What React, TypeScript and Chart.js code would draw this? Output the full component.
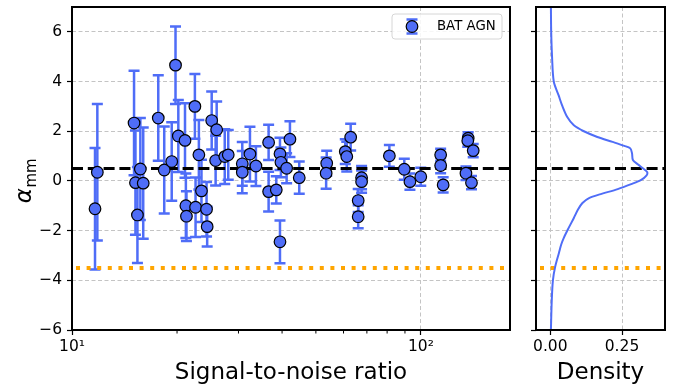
import React, { useEffect, useRef } from 'react';
import { Chart, registerables } from 'chart.js';

Chart.register(...registerables);

// ---- data ----
const snr = [
  11.64, 11.82, 15.06, 15.2, 15.4, 15.7, 16.0, 17.67, 18.38, 19.31,
  19.8, 20.17, 21.08, 21.2, 21.28, 22.5, 22.6, 23.1, 23.5, 24.3,
  24.4, 25.14, 25.8, 25.98, 27.4, 28.04, 30.76, 30.76, 32.36, 33.66,
  36.6, 36.6, 38.5, 39.45, 39.7, 39.45, 41.22, 42.13, 44.8, 53.7,
  53.5, 60.7, 61.3, 62.9, 67.6, 67.6, 66.1, 66.1, 81.2, 89.6,
  93.0, 99.9, 113.9, 113.9, 115.8, 136.6, 136.2, 141.2, 134.6, 139.6,
];
const alpha = [
  -1.12, 0.35, 2.33, -0.07, -1.37, 0.48, -0.09, 2.53, 0.44, 0.78,
  4.66, 1.81, 1.63, -1.0, -1.42, 3.0, -1.06, 1.05, -0.4, -1.14,
  -1.84, 2.43, 0.82, 2.06, 0.98, 1.05, 0.69, 0.35, 1.08, 0.6,
  1.55, -0.43, -0.36, 1.09, 0.75, -2.45, 0.51, 1.68, 0.13, 0.71,
  0.31, 1.18, 0.98, 1.76, 0.13, -0.03, -0.79, -1.44, 1.01, 0.47,
  -0.03, 0.17, 1.05, 0.62, -0.16, 1.72, 1.62, 1.22, 0.31, -0.07,
];
const alphaErr = [
  2.45, 2.75, 2.1, 2.1, 1.93, 2.05, 2.24, 1.72, 1.75, 1.58,
  1.56, 1.45, 1.5, 1.3, 1.0, 1.3, 1.2, 1.4, 1.25, 1.1,
  0.8, 1.17, 1.0, 1.14, 1.1, 1.0, 0.88, 0.85, 1.1, 0.8,
  0.71, 0.8, 0.55, 0.65, 0.6, 0.86, 0.6, 0.72, 0.65, 0.5,
  0.63, 0.5, 0.6, 0.54, 0.47, 0.45, 0.46, 0.46, 0.44, 0.42,
  0.33, 0.36, 0.24, 0.31, 0.31, 0.24, 0.24, 0.27, 0.27, 0.27,
];
const densityAlpha = [
  7, 6, 5, 4, 3.44, 3.04, 2.57, 2.24, 2.0, 1.77, 1.57, 1.41, 1.31, 1.11, 0.84,
  0.67, 0.48, 0.35, 0.21, 0.04, -0.13, -0.33, -0.53, -0.69, -0.89, -1.16,
  -1.49, -1.89, -2.29, -2.56, -2.9, -3.45, -4, -4.8, -6,
];
const densityValue = [
  0.002, 0.003, 0.006, 0.012, 0.029, 0.041, 0.059, 0.082, 0.117, 0.164, 0.217,
  0.258, 0.279, 0.285, 0.288, 0.305, 0.326, 0.338, 0.335, 0.317, 0.282, 0.235,
  0.176, 0.135, 0.112, 0.096, 0.082, 0.064, 0.047, 0.038, 0.03, 0.017, 0.009,
  0.005, 0.002,
];
const yTicks = [-6, -4, -2, 0, 2, 4, 6];
const xMajorTicks = [10, 100];
const xMajorLabels = ['10\u00B9', '10\u00B2'];
const xMinorTicks = [20, 30, 40, 50, 60, 70, 80, 90];
const densityTicks = [0, 0.25];
const refLine = 0.5;
const thresholdLine = -3.5;
const seriesLabel = 'BAT AGN';
const xTitle = 'Signal-to-noise ratio';
const densityTitle = 'Density';

const BLUE = '#4f6df7';
const FONT = 'DejaVu Sans';
const GRID = '#c4c4c4';

function drawHLines(chart: any) {
  const { ctx, chartArea: a, scales } = chart;
  const y = scales.y;
  ctx.save();
  ctx.beginPath();
  ctx.rect(a.left, a.top, a.right - a.left, a.bottom - a.top);
  ctx.clip();
  const y0 = y.getPixelForValue(refLine);
  ctx.strokeStyle = '#000';
  ctx.lineWidth = 3;
  ctx.setLineDash([11, 4.8]);
  ctx.beginPath();
  ctx.moveTo(a.left, y0);
  ctx.lineTo(a.right, y0);
  ctx.stroke();
  const y1 = y.getPixelForValue(thresholdLine);
  ctx.strokeStyle = '#ffa500';
  ctx.lineWidth = 4;
  ctx.setLineDash([4, 6.6]);
  ctx.lineDashOffset = -4;
  ctx.beginPath();
  ctx.moveTo(a.left, y1);
  ctx.lineTo(a.right, y1);
  ctx.stroke();
  ctx.restore();
}

function drawFrame(chart: any) {
  const { ctx, chartArea: a } = chart;
  ctx.save();
  ctx.strokeStyle = '#000';
  ctx.lineWidth = 2;
  ctx.strokeRect(a.left, a.top, a.right - a.left, a.bottom - a.top);
  ctx.restore();
}

function drawXTitle(chart: any, text: string) {
  const { ctx, chartArea: a } = chart;
  ctx.save();
  ctx.fillStyle = '#000';
  ctx.font = `23px "${FONT}"`;
  ctx.textAlign = 'center';
  ctx.textBaseline = 'alphabetic';
  ctx.fillText(text, (a.left + a.right) / 2, 379);
  ctx.restore();
}

const mainPlugin = {
  id: 'mainDecor',
  beforeDatasetsDraw(chart: any) {
    const { ctx, chartArea: a, scales } = chart;
    const x = scales.x;
    const y = scales.y;
    ctx.save();
    ctx.beginPath();
    ctx.rect(a.left, a.top, a.right - a.left, a.bottom - a.top);
    ctx.clip();
    ctx.strokeStyle = BLUE;
    ctx.lineWidth = 2.5;
    ctx.setLineDash([]);
    for (let i = 0; i < snr.length; i++) {
      const px = x.getPixelForValue(snr[i]);
      const top = y.getPixelForValue(alpha[i] + alphaErr[i]);
      const bot = y.getPixelForValue(alpha[i] - alphaErr[i]);
      ctx.beginPath();
      ctx.moveTo(px, top);
      ctx.lineTo(px, bot);
      ctx.moveTo(px - 5.5, top);
      ctx.lineTo(px + 5.5, top);
      ctx.moveTo(px - 5.5, bot);
      ctx.lineTo(px + 5.5, bot);
      ctx.stroke();
    }
    ctx.restore();
    drawHLines(chart);
  },
  afterDraw(chart: any) {
    const { ctx, chartArea: a, scales } = chart;
    const x = scales.x;
    // minor ticks
    ctx.save();
    ctx.strokeStyle = '#000';
    ctx.lineWidth = 1;
    for (const v of xMinorTicks) {
      const px = x.getPixelForValue(v);
      ctx.beginPath();
      ctx.moveTo(px, a.bottom);
      ctx.lineTo(px, a.bottom + 3.5);
      ctx.stroke();
    }
    ctx.restore();
    drawFrame(chart);
    drawXTitle(chart, xTitle);
    // y title alpha_mm
    ctx.save();
    ctx.fillStyle = '#000';
    ctx.translate(31, 181);
    ctx.rotate(-Math.PI / 2);
    ctx.textBaseline = 'alphabetic';
    ctx.textAlign = 'left';
    ctx.font = `italic 23px "${FONT}"`;
    const aw = ctx.measureText('\u03B1').width;
    ctx.font = `15px "${FONT}"`;
    const mw = ctx.measureText('mm').width;
    const start = -(aw + mw) / 2;
    ctx.font = `italic 23px "${FONT}"`;
    ctx.fillText('\u03B1', start, 0);
    ctx.font = `15px "${FONT}"`;
    ctx.fillText('mm', start + aw + 0.5, 4.5);
    ctx.restore();
    // legend
    ctx.save();
    const lx = 392, ly = 14, lw = 110, lh = 25;
    ctx.fillStyle = 'rgba(255,255,255,0.85)';
    ctx.strokeStyle = '#d6d6d6';
    ctx.lineWidth = 1;
    ctx.beginPath();
    ctx.roundRect(lx, ly, lw, lh, 3);
    ctx.fill();
    ctx.stroke();
    const gx = 412, gy = 26.5;
    ctx.strokeStyle = BLUE;
    ctx.lineWidth = 2.5;
    ctx.beginPath();
    ctx.moveTo(gx, gy - 7);
    ctx.lineTo(gx, gy + 7);
    ctx.moveTo(gx - 5.5, gy - 7);
    ctx.lineTo(gx + 5.5, gy - 7);
    ctx.moveTo(gx - 5.5, gy + 7);
    ctx.lineTo(gx + 5.5, gy + 7);
    ctx.stroke();
    ctx.fillStyle = BLUE;
    ctx.strokeStyle = '#000';
    ctx.lineWidth = 1.2;
    ctx.beginPath();
    ctx.arc(gx, gy, 5.8, 0, Math.PI * 2);
    ctx.fill();
    ctx.stroke();
    ctx.fillStyle = '#000';
    ctx.font = `13.3px "${FONT}"`;
    ctx.textBaseline = 'middle';
    ctx.textAlign = 'left';
    ctx.fillText(seriesLabel, 437, gy + 0.5);
    ctx.restore();
  },
};

const densityPlugin = {
  id: 'densityDecor',
  beforeDatasetsDraw(chart: any) {
    drawHLines(chart);
  },
  afterDraw(chart: any) {
    drawFrame(chart);
    drawXTitle(chart, densityTitle);
  },
};

const tickFont = { family: FONT, size: 15.5 };

const fitX = (scale: any) => {
  scale.height = 57;
  scale.paddingLeft = 0;
  scale.paddingRight = 0;
};
const fitY = (w: number) => (scale: any) => {
  scale.width = w;
  scale.paddingTop = 0;
  scale.paddingBottom = 0;
};

export default function App() {
  const mainRef = useRef<HTMLCanvasElement>(null);
  const densRef = useRef<HTMLCanvasElement>(null);

  useEffect(() => {
    const main = new Chart(mainRef.current as HTMLCanvasElement, {
      type: 'scatter',
      data: {
        datasets: [
          {
            label: seriesLabel,
            data: snr.map((s, i) => ({ x: s, y: alpha[i] })),
            pointRadius: 5.8,
            pointHoverRadius: 5.8,
            pointBackgroundColor: BLUE,
            pointBorderColor: '#000',
            pointBorderWidth: 1.2,
            showLine: false,
          },
        ],
      },
      options: {
        responsive: false,
        animation: false,
        events: [],
        layout: { padding: { top: 7, right: 10, left: 0, bottom: 0 } },
        plugins: { legend: { display: false }, tooltip: { enabled: false } },
        scales: {
          x: {
            type: 'logarithmic',
            min: 10,
            max: 180,
            afterBuildTicks: (scale: any) => {
              scale.ticks = xMajorTicks.map((v) => ({ value: v }));
            },
            afterFit: fitX,
            ticks: {
              autoSkip: false,
              maxRotation: 0,
              padding: 3,
              color: '#000',
              font: tickFont,
              callback: (v: any) => {
                const idx = xMajorTicks.indexOf(Number(v));
                return idx >= 0 ? xMajorLabels[idx] : '';
              },
            },
            grid: {
              color: GRID,
              lineWidth: 1,
              tickColor: '#000',
              tickLength: 5,
              tickWidth: 1.2,
            },
            border: { display: false, dash: [4, 2.5] },
          },
          y: {
            type: 'linear',
            min: -6,
            max: 7,
            afterBuildTicks: (scale: any) => {
              scale.ticks = yTicks.map((v) => ({ value: v }));
            },
            afterFit: fitY(72),
            ticks: {
              autoSkip: false,
              padding: 5,
              color: '#000',
              font: tickFont,
              callback: (v: any) => String(v).replace('-', '\u2212'),
            },
            grid: {
              color: GRID,
              lineWidth: 1,
              tickColor: '#000',
              tickLength: 5,
              tickWidth: 1.2,
            },
            border: { display: false, dash: [4, 2.5] },
          },
        },
      },
      plugins: [mainPlugin],
    } as any);

    const dens = new Chart(densRef.current as HTMLCanvasElement, {
      type: 'scatter',
      data: {
        datasets: [
          {
            label: 'density',
            data: densityAlpha.map((a, i) => ({ x: densityValue[i], y: a })),
            showLine: true,
            pointRadius: 0,
            borderColor: BLUE,
            borderWidth: 2,
            tension: 0.3,
            fill: false,
          },
        ],
      },
      options: {
        responsive: false,
        animation: false,
        events: [],
        layout: { padding: { top: 7, right: 20, left: 0, bottom: 0 } },
        plugins: { legend: { display: false }, tooltip: { enabled: false } },
        scales: {
          x: {
            type: 'linear',
            min: -0.05,
            max: 0.4,
            afterBuildTicks: (scale: any) => {
              scale.ticks = densityTicks.map((v) => ({ value: v }));
            },
            afterFit: fitX,
            ticks: {
              autoSkip: false,
              maxRotation: 0,
              padding: 3,
              color: '#000',
              font: tickFont,
              callback: (v: any) => Number(v).toFixed(2),
            },
            grid: {
              color: GRID,
              lineWidth: 1,
              tickColor: '#000',
              tickLength: 5,
              tickWidth: 1.2,
            },
            border: { display: false, dash: [4, 2.5] },
          },
          y: {
            type: 'linear',
            min: -6,
            max: 7,
            afterBuildTicks: (scale: any) => {
              scale.ticks = yTicks.map((v) => ({ value: v }));
            },
            afterFit: fitY(16),
            ticks: {
              autoSkip: false,
              padding: 0,
              font: tickFont,
              callback: () => '',
            },
            grid: {
              color: GRID,
              lineWidth: 1,
              tickColor: '#000',
              tickLength: 5,
              tickWidth: 1.2,
            },
            border: { display: false, dash: [4, 2.5] },
          },
        },
      },
      plugins: [densityPlugin],
    } as any);

    return () => {
      main.destroy();
      dens.destroy();
    };
  }, []);

  return (
    <div
      style={{
        position: 'absolute',
        left: 0,
        top: 0,
        width: 685,
        height: 387,
        background: '#fff',
      }}
    >
      <canvas
        ref={mainRef}
        width={520}
        height={387}
        style={{ position: 'absolute', left: 0, top: 0, width: 520, height: 387 }}
      />
      <canvas
        ref={densRef}
        width={165}
        height={387}
        style={{ position: 'absolute', left: 520, top: 0, width: 165, height: 387 }}
      />
    </div>
  );
}
